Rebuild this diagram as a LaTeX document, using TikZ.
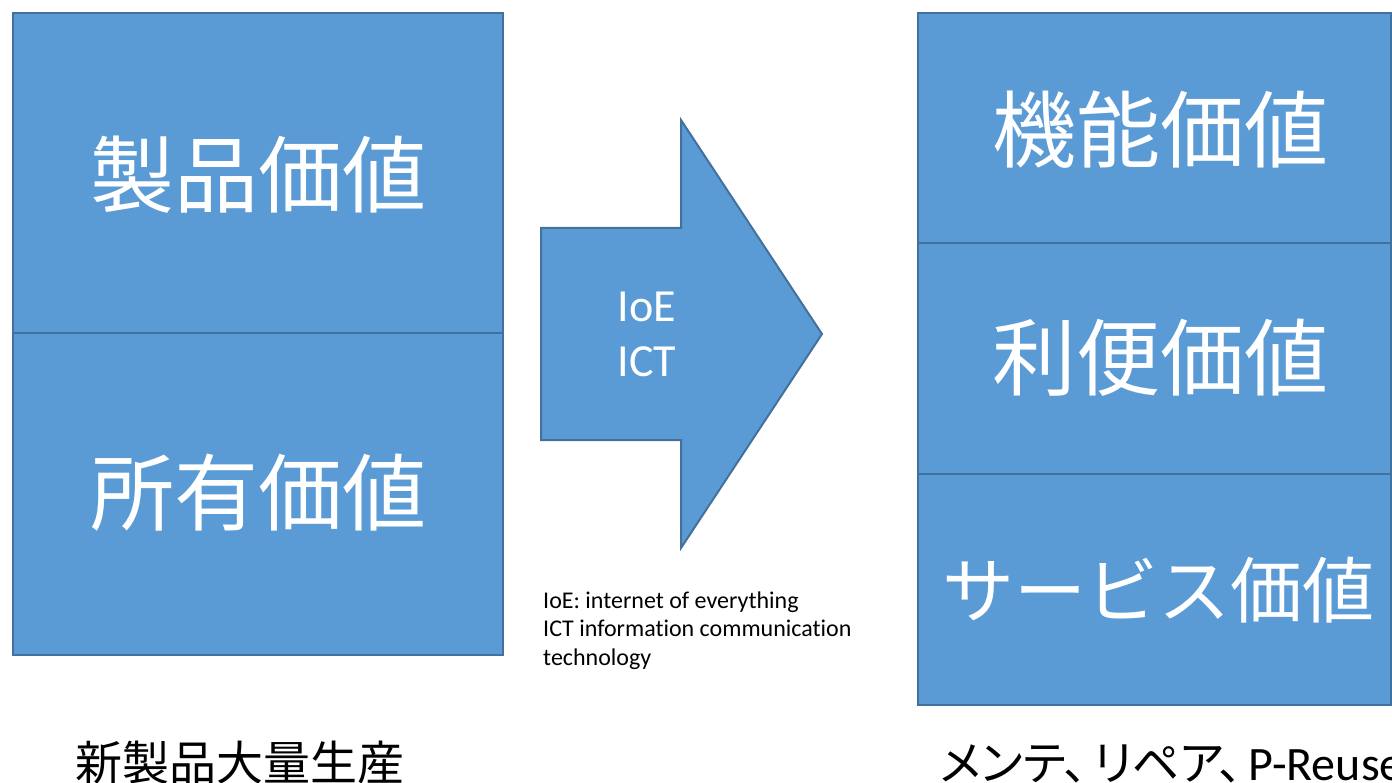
\documentclass[tikz,border=0pt]{standalone}
\usepackage{fontspec}
\setmainfont[Ligatures=NoCommon]{Carlito}
\newfontfamily\jp{Noto Sans CJK JP}
\newfontfamily\jpp[RawFeature=+palt]{Noto Sans CJK JP}
\definecolor{boxfill}{HTML}{5B9BD5}
\definecolor{boxline}{HTML}{41719C}
\begin{document}
\begin{tikzpicture}[x=1pt,y=-1pt,
  blk/.style={fill=boxfill,draw=boxline,line width=2pt},
  bigtxt/.style={text=white,inner sep=0pt,anchor=base,font=\jp\fontsize{84}{90}\selectfont},
  captxt/.style={text=black,inner sep=0pt,anchor=base,font=\jp\fontsize{47}{52}\selectfont}]
\useasboundingbox (0,0) rectangle (1392,783);
\fill[white] (0,0) rectangle (1392,783);
% left boxes
\draw[blk] (13,13) rectangle (503,333);
\draw[blk] (13,333) rectangle (503,655);
% right boxes
\draw[blk] (918,13) rectangle (1391,243);
\draw[blk] (918,243) rectangle (1391,474);
\draw[blk] (918,474) rectangle (1391,705);
% arrow
\draw[blk,line join=miter] (541,228) -- (681,228) -- (681,120) -- (822,334) -- (681,548) -- (681,440) -- (541,440) -- cycle;
% texts
\node[bigtxt] (t1) at (258,207) {製品価値};
\node[bigtxt] (t2) at (258,524) {所有価値};
\node[bigtxt] (t3) at (1160,162) {機能価値};
\node[bigtxt] (t4) at (1160,390) {利便価値};
\node[bigtxt,font=\jp\fontsize{72}{80}\selectfont] (t5) at (1158,617) {サービス価値};
\node[text=white,inner sep=0pt,anchor=base,align=center,font=\fontsize{46}{55}\selectfont] (ar) at (647,377) {IoE\\ICT};
\node[inner sep=0pt,anchor=base west,align=left,font=\fontsize{24}{28.5}\selectfont] (note) at (543,665) {IoE: internet of everything\\ICT information communication\\technology};
\node[captxt] (c1) at (240,780) {新製品大量生産};
\node[captxt,anchor=base west,font=\jpp\fontsize{47}{52}\selectfont] (c2) at (940,780) {メンテ、\kern6pt リペア、\kern6pt{\fontspec{Carlito}\fontsize{48}{52}\selectfont P-Reuse}};
\end{tikzpicture}
\end{document}
